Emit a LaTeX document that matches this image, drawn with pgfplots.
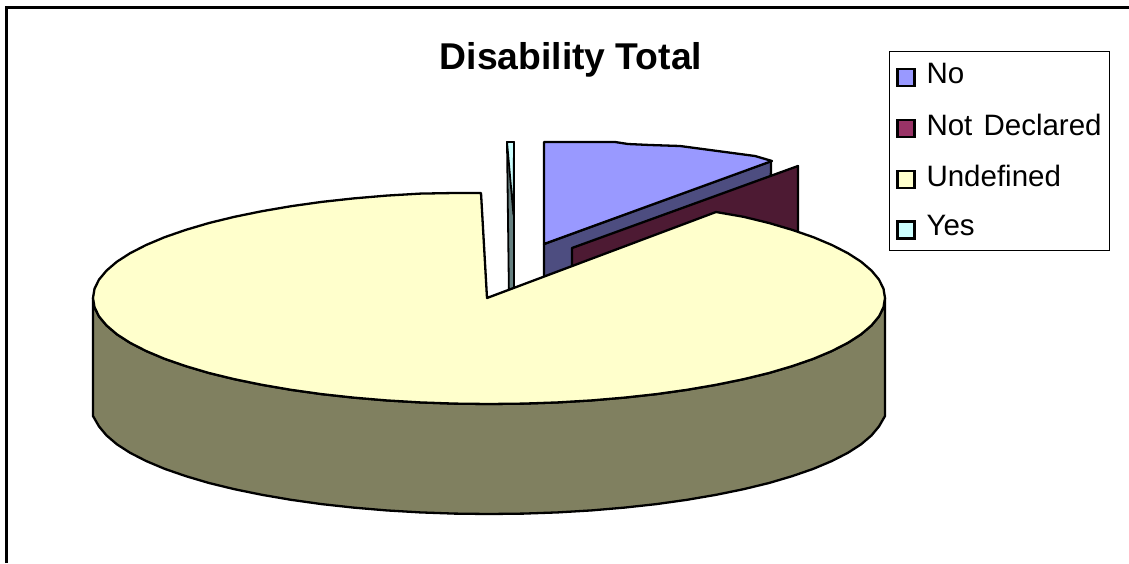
\documentclass[border=0pt]{standalone}
\usepackage{pgfplots}
\pgfplotsset{compat=1.18}
\usepackage{fontspec}
\setmainfont{Liberation Sans}

\definecolor{noTop}{HTML}{9999FF}
\definecolor{noSide}{HTML}{4D4D80}
\definecolor{ndTop}{HTML}{993366}
\definecolor{ndSide}{HTML}{4D1A33}
\definecolor{unTop}{HTML}{FFFFCC}
\definecolor{unSide}{HTML}{808060}
\definecolor{yesTop}{HTML}{CCFFFF}
\definecolor{yesSide}{HTML}{668080}

\pgfplotsset{
  swatch/.style={legend image code/.code={
    \draw[line width=2.2pt,black,fill=#1] (0pt,-12pt) rectangle (17pt,5pt);
    \path[draw=none,fill=none] (0pt,0pt) -- (28pt,0pt);}},
  face/.style={draw=black,line width=2.3pt,line join=round,fill=#1,forget plot},
}

\begin{document}
\begin{tikzpicture}
\begin{axis}[
    scale only axis,
    width=1129pt,
    height=563pt,
    xmin=0, xmax=1129,
    ymin=0, ymax=563,
    y dir=reverse,
    hide axis,
    legend style={
      at={(axis cs:889,51)},
      anchor=north west,
      draw=black,
      line width=0.8pt,
      fill=white,
      inner xsep=7pt,
      inner ysep=11pt,
      font=\fontsize{29.5}{32}\selectfont,
      row sep=25.4pt,
      nodes={inner sep=1pt},
    },
    legend cell align=left,
]

% keeps the page at the full size of the axis
\path (axis cs:0,0) rectangle (axis cs:1129,563);

% frame, cut off at the right and at the bottom
\addplot[draw=black,line width=2.8pt,forget plot] coordinates {
    (6.5,563) (6.5,7.5) (1129,7.5)
};

% No: side, then top
\addplot[face=noSide] coordinates {
    (544,244) (771,161) (770,271) (544,354)
} -- cycle;
\addplot[face=noTop] coordinates {
    (544,142) (615,142) (628,144) (650,145) (680,146) (710,150) (725,152)
    (755,156) (772,161) (544,244)
} -- cycle;

% Not Declared: only its wall shows
\addplot[face=ndSide] coordinates {
    (572,248) (798,166) (798,276) (572,358)
} -- cycle;

% Yes
\addplot[face=yesSide,line width=1.8pt] coordinates {
    (507,142) (514,142) (514,300) (509,300)
} -- cycle;
\addplot[face=yesTop,line width=1.8pt] coordinates {
    (507,142) (514,142) (513.5,215)
} -- cycle;

% Undefined: wall along the front edge
\addplot[face=unSide] coordinates {
    (93,298) (94.5,307.2) (99,316.4) (106.5,325.4) (116.9,334.3) (130.1,342.8)
    (146.1,351) (164.6,358.8) (185.7,366.1) (209,373) (234.5,379.2) (261.9,384.8)
    (291,389.8) (321.6,394.1) (353.6,397.6) (386.5,400.4) (420.3,402.4) (454.5,403.6)
    (489,404) (523.5,403.6) (557.7,402.4) (591.5,400.4) (624.4,397.6) (656.4,394.1)
    (687,389.8) (716.1,384.8) (743.5,379.2) (769,373) (792.3,366.1) (813.4,358.8)
    (831.9,351) (847.9,342.8) (861.1,334.3) (871.5,325.4) (879,316.4) (883.5,307.2)
    (885,298)
    (885,416) (879,426.4) (871.5,435.4) (861.1,444.3) (847.9,452.8)
    (831.9,461) (813.4,468.8) (792.3,476.1) (769,483) (743.5,489.2) (716.1,494.8)
    (687,499.8) (656.4,504.1) (624.4,507.6) (591.5,510.4) (557.7,512.4) (523.5,513.6)
    (489,514) (454.5,513.6) (420.3,512.4) (386.5,510.4) (353.6,507.6) (321.6,504.1)
    (291,499.8) (261.9,494.8) (234.5,489.2) (209,483) (185.7,476.1) (164.6,468.8)
    (146.1,461) (130.1,452.8) (116.9,444.3) (106.5,435.4) (99,426.4) (93,416)
} -- cycle;

% Undefined: top face
\addplot[face=unTop] coordinates {
    (487,298) (716,212) (743.5,216.8) (769,223) (792.3,229.9) (813.4,237.2)
    (831.9,245) (847.9,253.2) (861.1,261.7) (871.5,270.6) (879,279.6) (883.5,288.8)
    (885,298) (883.5,307.2) (879,316.4) (871.5,325.4) (861.1,334.3) (847.9,342.8)
    (831.9,351) (813.4,358.8) (792.3,366.1) (769,373) (743.5,379.2) (716.1,384.8)
    (687,389.8) (656.4,394.1) (624.4,397.6) (591.5,400.4) (557.7,402.4) (523.5,403.6)
    (489,404) (454.5,403.6) (420.3,402.4) (386.5,400.4) (353.6,397.6) (321.6,394.1)
    (291,389.8) (261.9,384.8) (234.5,379.2) (209,373) (185.7,366.1) (164.6,358.8)
    (146.1,351) (130.1,342.8) (116.9,334.3) (106.5,325.4) (99,316.4) (94.5,307.2)
    (93,298) (94.5,288.8) (99,279.6) (106.5,270.6) (116.9,261.7) (130.1,253.2)
    (146.1,245) (164.6,237.2) (185.7,229.9) (209,223) (234.5,216.8) (261.9,211.2)
    (291,206.2) (321.6,201.9) (353.6,198.4) (386.5,195.6) (420.3,193.6) (454.5,193)
    (481,193)
} -- cycle;

\addlegendimage{swatch=noTop}
\addlegendentry{No}
\addlegendimage{swatch=ndTop}
\addlegendentry{Not\hspace{3pt} Declared}
\addlegendimage{swatch=unTop}
\addlegendentry{Undefined}
\addlegendimage{swatch=yesTop}
\addlegendentry{Yes}

\node[font=\fontsize{37.3}{40}\selectfont\bfseries] at (axis cs:571,60) {Disability Total};

\end{axis}
\end{tikzpicture}
\end{document}
